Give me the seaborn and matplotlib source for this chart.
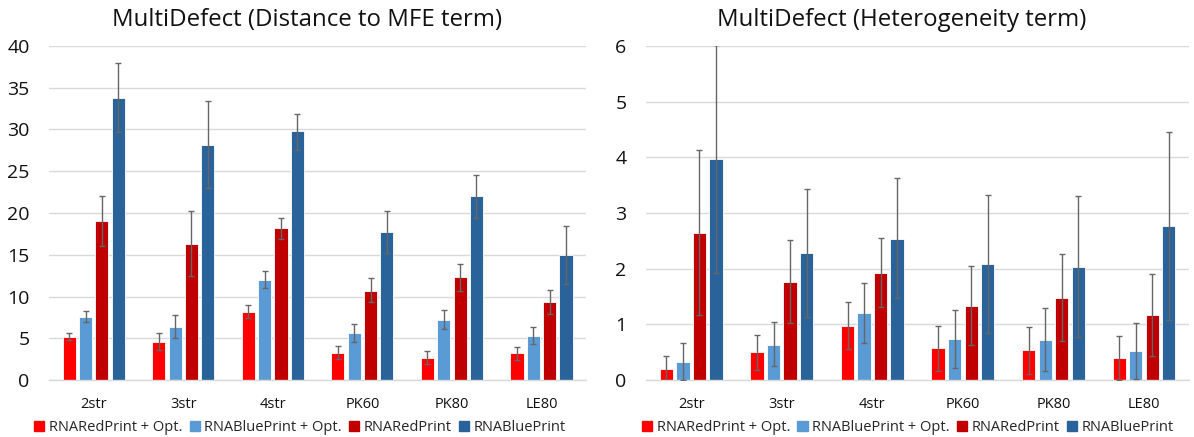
import matplotlib
matplotlib.use("Agg")
import matplotlib.pyplot as plt
import seaborn as sns
import pandas as pd
import numpy as np

categories = ["2str", "3str", "4str", "PK60", "PK80", "LE80"]
series = ["RNARedPrint + Opt.", "RNABluePrint + Opt.", "RNARedPrint", "RNABluePrint"]
colors = ["#FF0000", "#5B9BD5", "#C00000", "#2A6399"]

# Distance to MFE term: means and (lower, upper) error ends
mfe_red_opt = [5.2, 4.6, 8.2, 3.3, 2.7, 3.2]
mfe_red_opt_lo = [4.8, 3.6, 7.4, 2.5, 1.9, 2.4]
mfe_red_opt_hi = [5.7, 5.7, 9.0, 4.1, 3.55, 4.0]
mfe_blue_opt = [7.6, 6.4, 12.0, 5.7, 7.2, 5.3]
mfe_blue_opt_lo = [7.0, 5.0, 11.0, 4.6, 6.1, 4.35]
mfe_blue_opt_hi = [8.3, 7.8, 13.1, 6.75, 8.35, 6.35]
mfe_red = [19.0, 16.3, 18.2, 10.7, 12.3, 9.3]
mfe_red_lo = [16.0, 12.5, 16.9, 9.3, 10.7, 7.9]
mfe_red_hi = [22.0, 20.2, 19.4, 12.2, 13.9, 10.85]
mfe_blue = [33.8, 28.2, 29.8, 17.7, 22.0, 15.0]
mfe_blue_lo = [29.7, 23.0, 27.6, 15.2, 19.4, 11.55]
mfe_blue_hi = [37.9, 33.4, 31.9, 20.2, 24.5, 18.4]

# Heterogeneity term
het_red_opt = [0.20, 0.50, 0.97, 0.57, 0.54, 0.40]
het_red_opt_lo = [-0.03, 0.19, 0.56, 0.17, 0.11, 0.0]
het_red_opt_hi = [0.43, 0.82, 1.40, 0.97, 0.96, 0.79]
het_blue_opt = [0.33, 0.64, 1.21, 0.74, 0.73, 0.52]
het_blue_opt_lo = [0.0, 0.25, 0.67, 0.22, 0.17, 0.02]
het_blue_opt_hi = [0.66, 1.04, 1.75, 1.26, 1.30, 1.03]
het_red = [2.65, 1.76, 1.93, 1.34, 1.48, 1.17]
het_red_lo = [1.17, 1.03, 1.31, 0.64, 0.70, 0.44]
het_red_hi = [4.13, 2.51, 2.55, 2.05, 2.26, 1.91]
het_blue = [3.97, 2.28, 2.53, 2.09, 2.04, 2.76]
het_blue_lo = [1.92, 1.14, 1.47, 0.85, 0.78, 1.08]
het_blue_hi = [6.02, 3.43, 3.62, 3.32, 3.31, 4.45]

titles = ["MultiDefect (Distance to MFE term)", "MultiDefect (Heterogeneity term)"]


def make_df(vals, los, his):
    rows = []
    for s, v, lo, hi in zip(series, vals, los, his):
        for c, a, b, d in zip(categories, v, lo, hi):
            rows.append({"cat": c, "series": s, "value": a, "lo": b, "hi": d})
    return pd.DataFrame(rows)


df_mfe = make_df([mfe_red_opt, mfe_blue_opt, mfe_red, mfe_blue],
                 [mfe_red_opt_lo, mfe_blue_opt_lo, mfe_red_lo, mfe_blue_lo],
                 [mfe_red_opt_hi, mfe_blue_opt_hi, mfe_red_hi, mfe_blue_hi])
df_het = make_df([het_red_opt, het_blue_opt, het_red, het_blue],
                 [het_red_opt_lo, het_blue_opt_lo, het_red_lo, het_blue_lo],
                 [het_red_opt_hi, het_blue_opt_hi, het_red_hi, het_blue_hi])

sns.set_theme(style="white")
plt.rcParams["font.family"] = ["Open Sans", "DejaVu Sans"]

fig = plt.figure(figsize=(11.94, 4.37), dpi=100)
ax1 = fig.add_axes([0.041, 0.130, 0.450, 0.765])
ax2 = fig.add_axes([0.541, 0.130, 0.455, 0.765])

palette = dict(zip(series, colors))

panels = [(ax1, df_mfe, titles[0], 40, 5, 0.480, 0.467),
          (ax2, df_het, titles[1], 6, 1, 0.471, 0.482)]

for ax, df, title, ymax, step, tx, lx in panels:
    sns.barplot(data=df, x="cat", y="value", hue="series", order=categories,
                hue_order=series, palette=palette, errorbar=None, width=0.73,
                gap=0.2, saturation=1, ax=ax, edgecolor="white", linewidth=0.6,
                zorder=2)
    bar_containers = list(ax.containers)
    # error bars placed on the bars drawn by seaborn
    for s_i, cont in enumerate(bar_containers):
        sub = df[df["series"] == series[s_i]].set_index("cat").loc[categories]
        xs = [p.get_x() + p.get_width() / 2 for p in cont.patches]
        ys = sub["value"].to_numpy()
        lo = ys - sub["lo"].to_numpy()
        hi = sub["hi"].to_numpy() - ys
        ax.errorbar(xs, ys, yerr=[lo, hi], fmt="none", ecolor="#666666",
                    elinewidth=1.0, capsize=2, capthick=1.0, zorder=3)
    ax.set_ylim(0, ymax)
    ax.set_yticks(np.arange(0, ymax + step / 2, step))
    ax.set_xlim(-0.5, len(categories) - 0.5)
    ax.yaxis.grid(True, color="#D9D9D9", linewidth=1.0, zorder=0)
    ax.set_axisbelow(True)
    for sp in ["top", "right", "left"]:
        ax.spines[sp].set_visible(False)
    ax.spines["bottom"].set_color("#D9D9D9")
    ax.spines["bottom"].set_linewidth(1.0)
    ax.set_xlabel("")
    ax.set_ylabel("")
    ax.tick_params(axis="y", labelsize=14, length=0, pad=14, colors="#111111")
    ax.tick_params(axis="x", labelsize=10.5, length=0, pad=12, colors="#111111")
    ax.set_title(title, fontsize=17.3, pad=14, color="#111111", x=tx)
    if ax.get_legend() is not None:
        ax.get_legend().remove()
    handles = [plt.Rectangle((0, 0), 1, 1, color=c) for c in colors]
    ax.legend(handles, series, loc="center", bbox_to_anchor=(lx, -0.143),
              ncol=4, frameon=False, fontsize=10.5, handlelength=0.7,
              handleheight=0.7, handletextpad=0.3, columnspacing=0.5,
              borderpad=0.1)

fig.savefig("out.png", dpi=100)
